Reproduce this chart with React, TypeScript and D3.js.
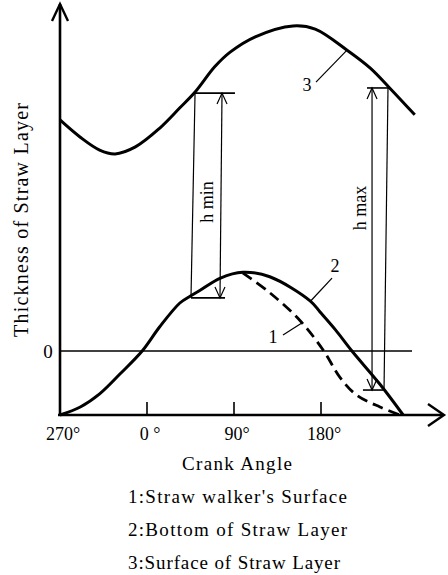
import React from 'react';
import * as d3 from 'd3';

// Crank angle in degrees measured from the 270° start (-90 = 270°)
const xTickAngles = [-90, 0, 90, 180];
const xTickLabels = ['270°', '0 °', '90°', '180°'];

// Curve 3: Surface of Straw Layer
const surfaceAngles = [-90, -69, -49, -33, -12, 13, 34, 50, 70, 86, 112, 151, 174, 207, 231, 251, 277];
const surfaceValues = [3.61, 3.34, 3.14, 3.08, 3.19, 3.48, 3.8, 4.05, 4.44, 4.67, 4.91, 5.08, 5.03, 4.7, 4.42, 4.11, 3.69];

// Curve 2: Bottom of Straw Layer
const bottomAngles = [-90, -69, -49, -28, -5, 13, 34, 45, 55, 76, 99, 127, 169, 179, 195, 212, 241, 265];
const bottomValues = [-1.0, -0.875, -0.67, -0.36, 0, 0.375, 0.75, 0.86, 0.95, 1.14, 1.23, 1.16, 0.78, 0.61, 0.33, 0, -0.52, -1.0];

// Curve 1: Straw walker's surface (dashed, visible after the peak)
const walkerAngles = [99, 127, 158, 182, 200, 217, 241, 262];
const walkerValues = [1.22, 0.91, 0.48, 0.02, -0.42, -0.69, -0.875, -1.0];

const legendLines = ["1:Straw walker's Surface", '2:Bottom of Straw Layer', '3:Surface of Straw Layer'];

const FONT = "'Liberation Serif', 'DejaVu Serif', serif";

export default function App() {
  const W = 448;
  const H = 575;
  const x = d3.scaleLinear().domain([-90, 270]).range([60, 408]);
  const y = d3.scaleLinear().domain([-1, 0]).range([415, 351]);

  const line = d3
    .line<[number, number]>()
    .x((d) => x(d[0]))
    .y((d) => y(d[1]))
    .curve(d3.curveCatmullRom.alpha(0.5));

  const surface = surfaceAngles.map((a, i) => [a, surfaceValues[i]] as [number, number]);
  const bottom = bottomAngles.map((a, i) => [a, bottomValues[i]] as [number, number]);
  const walker = walkerAngles.map((a, i) => [a, walkerValues[i]] as [number, number]);

  const arrowHead = (tx: number, ty: number, dir: 'up' | 'down', len = 10, half = 5) => {
    const s = dir === 'up' ? 1 : -1;
    return `M${tx - half},${ty + s * len}L${tx},${ty}L${tx + half},${ty + s * len}`;
  };

  // h min construction
  const hmin = {
    leftTop: x(49.7), leftBot: x(45.5), arrTop: x(77.6), arrBot: x(75.5),
    topY: y(4.03), botY: y(0.83), topRight: x(91), botRight: x(80.7),
  };
  // h max construction
  const hmax = {
    topLeft: x(227.6), topRight: x(251.4), topY: y(4.11), arrX: x(232.8),
    rightTop: x(249.3), rightBot: x(245.2), botY: y(-0.61), botLeft: x(223.4), botRight: x(244.1),
  };

  const thin = { stroke: '#000', strokeWidth: 1.2, fill: 'none' };

  return (
    <svg width={W} height={H} style={{ position: 'absolute', left: 0, top: 0, background: '#fff' }} fontFamily={FONT}>
      <rect width={W} height={H} fill="#fff" />
      {/* zero line */}
      <line x1={x(-90)} x2={412} y1={y(0)} y2={y(0)} stroke="#000" strokeWidth={1.5} />
      <text x={48} y={y(0) + 7} fontSize={19} textAnchor="middle">0</text>

      {/* axes */}
      <line x1={60} x2={60} y1={y(-1)} y2={4} stroke="#000" strokeWidth={2.6} />
      <path d={arrowHead(60, 4, 'up', 17, 8)} stroke="#000" strokeWidth={2.4} fill="none" />
      <line x1={58} x2={443} y1={y(-1)} y2={y(-1)} stroke="#000" strokeWidth={2.6} />
      <path d={`M428,404L444,${y(-1)}L428,426`} stroke="#000" strokeWidth={2.4} fill="none" />

      {xTickAngles.map((a, i) => (
        <g key={i}>
          {a !== -90 && <line x1={x(a)} x2={x(a)} y1={y(-1)} y2={y(-1) - 13} stroke="#000" strokeWidth={1.6} />}
          <text x={x(a) + 3} y={440} fontSize={18} textAnchor="middle">{xTickLabels[i]}</text>
        </g>
      ))}

      <text x={237} y={470} fontSize={19} textAnchor="middle" textLength={110} lengthAdjust="spacing">Crank Angle</text>
      {legendLines.map((t, i) => (
        <text key={i} x={128} y={503 + i * 33} fontSize={19} textLength={i === 2 ? 212 : 219} lengthAdjust="spacing">{t}</text>
      ))}

      <text transform="translate(28,220) rotate(-90)" fontSize={20} textAnchor="middle" textLength={234} lengthAdjust="spacing">Thickness of Straw Layer</text>

      {/* curves */}
      <path d={line(surface) || ''} stroke="#000" strokeWidth={3} fill="none" />
      <path d={line(bottom) || ''} stroke="#000" strokeWidth={3} fill="none" />
      <path d={line(walker) || ''} stroke="#000" strokeWidth={2.8} fill="none" strokeDasharray="11,6" />

      {/* h min */}
      <line x1={hmin.leftTop} y1={hmin.topY} x2={hmin.leftBot} y2={hmin.botY} {...thin} />
      <line x1={hmin.leftTop} y1={hmin.topY} x2={hmin.topRight} y2={hmin.topY} {...thin} strokeWidth={1.6} />
      <line x1={hmin.leftBot} y1={hmin.botY} x2={hmin.botRight} y2={hmin.botY} {...thin} strokeWidth={1.6} />
      <line x1={hmin.arrTop} y1={hmin.topY} x2={hmin.arrBot} y2={hmin.botY} {...thin} />
      <path d={arrowHead(hmin.arrTop, hmin.topY, 'up', 11, 5)} {...thin} />
      <path d={arrowHead(hmin.arrBot, hmin.botY, 'down', 11, 5)} {...thin} />
      <text transform={`translate(${213},${202}) rotate(-90)`} fontSize={18} textAnchor="middle">h min</text>

      {/* h max */}
      <line x1={hmax.topLeft} y1={hmax.topY} x2={hmax.topRight} y2={hmax.topY} {...thin} strokeWidth={1.6} />
      <line x1={hmax.rightTop} y1={hmax.topY} x2={hmax.rightBot} y2={hmax.botY} {...thin} />
      <line x1={hmax.arrX} y1={hmax.topY} x2={hmax.arrX} y2={hmax.botY} {...thin} />
      <line x1={hmax.botLeft} y1={hmax.botY} x2={hmax.botRight} y2={hmax.botY} {...thin} strokeWidth={1.6} />
      <path d={arrowHead(hmax.arrX, hmax.topY, 'up', 11, 5)} {...thin} />
      <path d={arrowHead(hmax.arrX, hmax.botY, 'down', 11, 5)} {...thin} />
      <text transform={`translate(${366},${208}) rotate(-90)`} fontSize={18} textAnchor="middle">h max</text>

      {/* callouts */}
      <line x1={x(174.8)} y1={y(4.2)} x2={x(206.9)} y2={y(4.7)} {...thin} />
      <text x={x(165.5)} y={y(4.06)} fontSize={18} textAnchor="middle">3</text>
      <line x1={x(168.6)} y1={y(0.77)} x2={x(191.4)} y2={y(1.14)} {...thin} />
      <text x={x(194.5)} y={y(1.23)} fontSize={18} textAnchor="middle">2</text>
      <line x1={x(140.7)} y1={y(0.25)} x2={x(161.4)} y2={y(0.45)} {...thin} />
      <text x={x(130.3)} y={y(0.125)} fontSize={18} textAnchor="middle">1</text>
    </svg>
  );
}
